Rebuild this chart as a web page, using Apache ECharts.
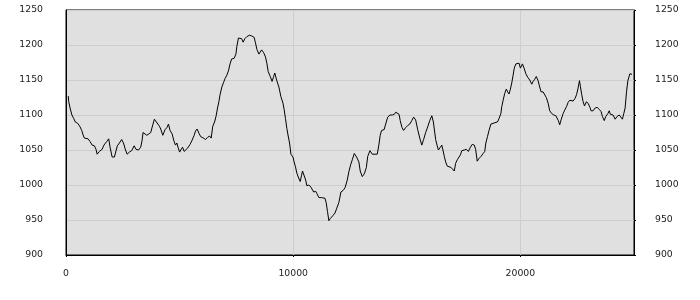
<!DOCTYPE html>
<html>
<head>
<meta charset="utf-8">
<script src="https://cdn.jsdelivr.net/npm/echarts@6/dist/echarts.min.js"></script>
<style>html,body{margin:0;padding:0;background:#fff;}#c{width:700px;height:300px;}</style>
</head>
<body>
<div id="c"></div>
<script>
const xValues = [100,120,180,260,340,410,520,620,690,770,810,880,970,1060,1150,1250,1320,1370,1470,1590,1670,1790,1880,1940,2030,2130,2200,2260,2350,2450,2530,2620,2690,2790,2890,3000,3080,3190,3290,3350,3390,3470,3560,3640,3730,3820,3890,3980,4110,4170,4260,4360,4440,4510,4580,4670,4760,4820,4880,4930,5000,5050,5130,5200,5270,5360,5460,5550,5640,5700,5770,5850,5930,6050,6140,6230,6320,6390,6460,6540,6610,6670,6730,6780,6860,6930,7000,7080,7150,7220,7290,7400,7480,7520,7590,7730,7800,7870,7960,8080,8170,8280,8340,8400,8490,8610,8700,8780,8840,8900,8990,9070,9140,9190,9270,9370,9460,9550,9600,9660,9720,9780,9840,9900,9990,10040,10100,10160,10240,10310,10370,10410,10480,10550,10600,10690,10780,10840,10900,10990,11040,11130,11250,11400,11450,11510,11570,11630,11740,11840,11920,12010,12100,12190,12280,12380,12450,12530,12600,12690,12790,12890,12950,13040,13130,13220,13280,13380,13480,13600,13700,13770,13830,13890,14000,14070,14160,14260,14360,14450,14510,14570,14660,14710,14790,14860,14950,15040,15130,15220,15300,15390,15480,15570,15660,15740,15830,15920,16010,16100,16170,16210,16270,16330,16390,16540,16590,16650,16710,16780,16860,16950,17030,17090,17150,17220,17300,17360,17420,17530,17620,17710,17800,17880,17970,18030,18100,18180,18270,18360,18430,18480,18550,18620,18700,18770,18880,18990,19060,19140,19180,19240,19310,19380,19440,19500,19560,19620,19680,19730,19800,19880,19940,20000,20090,20160,20240,20320,20410,20500,20560,20630,20700,20780,20850,20910,21000,21070,21140,21220,21290,21380,21470,21560,21620,21670,21730,21790,21880,21950,22030,22100,22170,22250,22320,22410,22470,22530,22600,22640,22700,22760,22820,22910,22990,23060,23110,23200,23290,23380,23470,23550,23610,23690,23760,23850,23910,23960,24030,24080,24170,24260,24350,24400,24490,24550,24610,24670,24730,24820,24910];
const yValues = [1127,1119,1110,1100,1095,1090,1088,1083,1078,1070,1067,1069,1066,1062,1057,1056,1051,1044,1048,1051,1057,1062,1066,1054,1040,1040,1040,1056,1060,1065,1060,1050,1044,1047,1049,1056,1051,1050,1054,1064,1075,1077,1071,1071,1075,1086,1094,1090,1084,1080,1071,1079,1082,1087,1078,1073,1062,1057,1060,1054,1047,1050,1054,1048,1048,1053,1058,1064,1071,1077,1080,1074,1069,1067,1065,1068,1070,1067,1084,1090,1099,1110,1119,1129,1140,1146,1152,1157,1163,1173,1180,1181,1187,1198,1210,1209,1204,1209,1212,1214,1213,1211,1203,1194,1187,1193,1189,1183,1174,1162,1155,1148,1155,1160,1150,1140,1126,1117,1108,1095,1081,1070,1060,1044,1040,1033,1026,1017,1010,1005,1014,1020,1018,1007,999,1000,997,998,990,991,988,982,982,981,975,962,949,952,956,960,967,975,990,992,996,1007,1019,1029,1036,1045,1040,1033,1020,1012,1016,1025,1041,1049,1044,1044,1044,1057,1071,1078,1079,1087,1097,1100,1100,1101,1104,1106,1101,1092,1082,1078,1082,1085,1087,1092,1097,1093,1079,1067,1057,1065,1075,1083,1092,1099,1090,1080,1065,1057,1050,1057,1050,1041,1033,1027,1025,1025,1024,1020,1031,1036,1037,1043,1049,1050,1051,1048,1054,1058,1057,1051,1034,1038,1041,1045,1048,1060,1069,1078,1087,1089,1089,1090,1095,1102,1112,1121,1131,1137,1133,1130,1137,1146,1157,1167,1173,1175,1174,1167,1173,1167,1159,1154,1150,1144,1148,1151,1155,1149,1140,1133,1133,1132,1125,1117,1106,1102,1100,1099,1098,1092,1086,1093,1102,1107,1112,1118,1121,1122,1120,1124,1129,1137,1149,1141,1129,1119,1113,1119,1116,1111,1106,1106,1110,1111,1108,1105,1098,1092,1098,1102,1106,1101,1099,1100,1094,1098,1100,1102,1094,1102,1110,1133,1149,1159,1158];
const xTicks = [0, 10000, 20000];

const data = xValues.map((x, i) => [x, yValues[i]]);
const chart = echarts.init(document.getElementById('c'), null, {renderer: 'canvas'});
const plain = v => String(v);
const labelStyle = {color: '#222', fontSize: 9.3, fontFamily: 'DejaVu Sans', formatter: plain};
chart.setOption({
  animation: false,
  grid: {left: 66, right: 66, top: 10, bottom: 45, show: true, backgroundColor: '#e0e0e0', borderColor: '#000', borderWidth: 1},
  xAxis: {
    type: 'value', min: 0, max: 25000, interval: 10000,
    axisLine: {show: true, lineStyle: {color: '#000'}},
    axisTick: {show: true, length: 2, lineStyle: {color: '#000'}, customValues: xTicks},
    axisLabel: Object.assign({margin: 14, customValues: xTicks}, labelStyle),
    splitLine: {show: true, lineStyle: {color: '#cdcdcd', width: 1}}
  },
  yAxis: [
    {
      type: 'value', min: 900, max: 1250, interval: 50, position: 'left',
      axisLine: {show: true, lineStyle: {color: '#000'}},
      axisTick: {show: false},
      axisLabel: Object.assign({margin: 23}, labelStyle),
      splitLine: {show: true, lineStyle: {color: '#cdcdcd', width: 1}}
    },
    {
      type: 'value', min: 900, max: 1250, interval: 50, position: 'right',
      axisLine: {show: true, lineStyle: {color: '#000'}},
      axisTick: {show: true, length: 2, inside: false, lineStyle: {color: '#000'}},
      axisLabel: Object.assign({margin: 21}, labelStyle),
      splitLine: {show: false}
    }
  ],
  series: [{
    type: 'line', data: data, yAxisIndex: 0, showSymbol: false, symbol: 'none',
    lineStyle: {color: '#000', width: 1}, silent: true
  }]
});
</script>
</body>
</html>
